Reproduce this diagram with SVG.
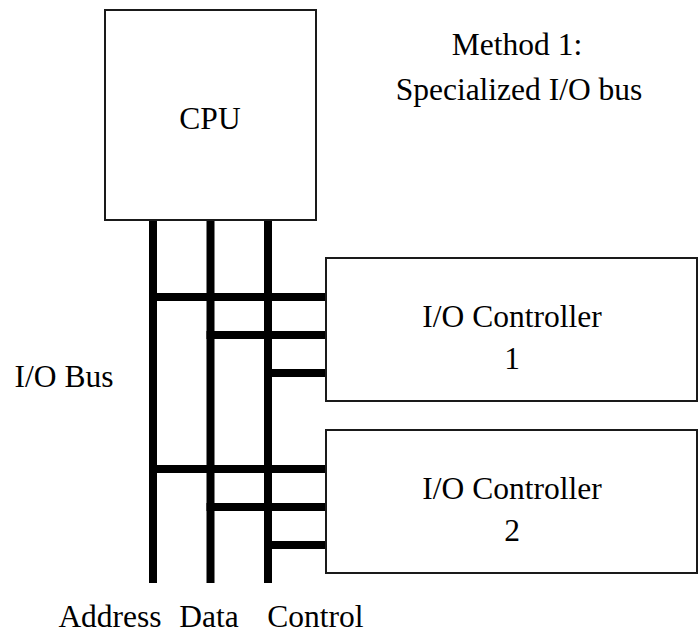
<svg xmlns="http://www.w3.org/2000/svg" width="700" height="633" viewBox="0 0 700 633">
<style>
.box{fill:#fff;stroke:#1a1a1a;stroke-width:2}
.bus{stroke:#000;stroke-width:8;fill:none}
text{font-family:"Liberation Serif","Times New Roman",serif;font-size:31.5px;fill:#000;text-anchor:middle}
</style>
<rect width="700" height="633" fill="#fff"/>
<g id="connectors">
<line class="bus" x1="153" y1="220" x2="153" y2="583"/>
<line class="bus" x1="210.5" y1="220" x2="210.5" y2="583"/>
<line class="bus" x1="268" y1="220" x2="268" y2="583"/>
<line class="bus" x1="149" y1="297" x2="326" y2="297"/>
<line class="bus" x1="206.5" y1="335" x2="326" y2="335"/>
<line class="bus" x1="264" y1="373" x2="326" y2="373"/>
<line class="bus" x1="149" y1="469" x2="326" y2="469"/>
<line class="bus" x1="206.5" y1="507" x2="326" y2="507"/>
<line class="bus" x1="264" y1="545" x2="326" y2="545"/>
</g>
<g id="cpu">
<rect class="box" x="105" y="10" width="211" height="210"/>
<text x="210" y="129">CPU</text>
</g>
<g id="ioc1">
<rect class="box" x="326" y="258" width="371" height="143"/>
<text x="512" y="327">I/O Controller</text>
<text x="512" y="369">1</text>
</g>
<g id="ioc2">
<rect class="box" x="326" y="430" width="371" height="143"/>
<text x="512" y="499">I/O Controller</text>
<text x="512" y="541">2</text>
</g>
<g id="labels">
<text x="517" y="55">Method 1:</text>
<text x="519" y="100">Specialized I/O bus</text>
<text x="64" y="387">I/O Bus</text>
<text x="110" y="627">Address</text>
<text x="209" y="627">Data</text>
<text x="315.5" y="627">Control</text>
</g>
</svg>
